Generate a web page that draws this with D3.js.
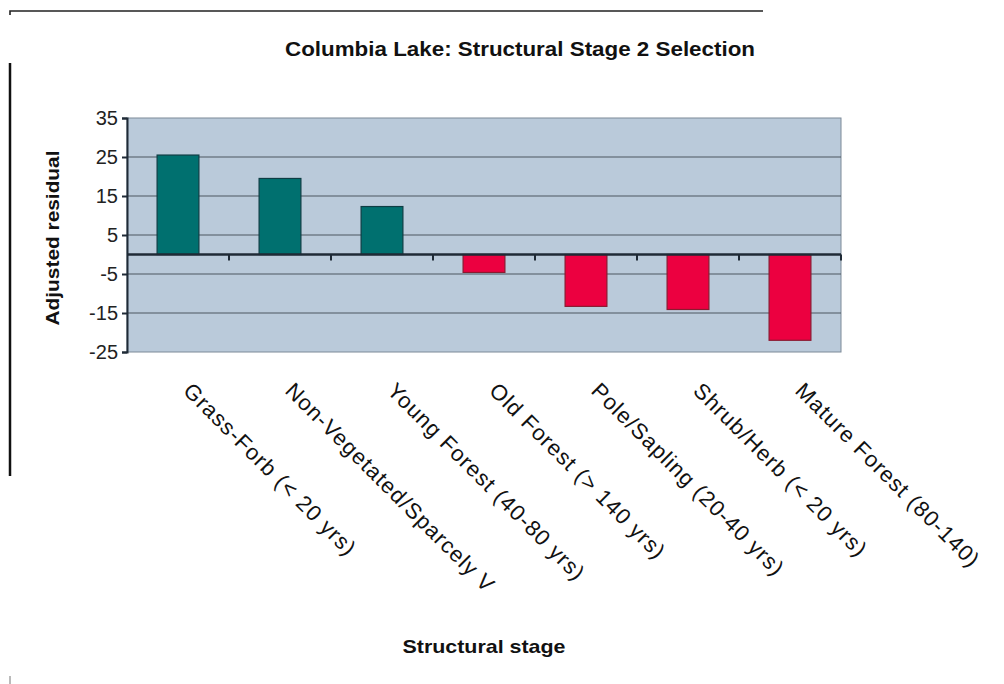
<!DOCTYPE html>
<html>
<head>
<meta charset="utf-8">
<script src="https://cdn.jsdelivr.net/npm/d3@7"></script>
<style>
  html, body { margin: 0; padding: 0; background: #fff; }
  svg { display: block; }
</style>
</head>
<body>
<svg id="chart" width="1004" height="684"></svg>
<script>
// Structural stages and their adjusted residuals
const categories = [
  "Grass-Forb (< 20 yrs)",
  "Non-Vegetated/Sparcely V",
  "Young Forest (40-80 yrs)",
  "Old Forest (> 140 yrs)",
  "Pole/Sapling (20-40 yrs)",
  "Shrub/Herb (< 20 yrs)",
  "Mature Forest (80-140)"
];
const residuals = [25.5, 19.5, 12.3, -4.6, -13.3, -14.1, -22.0];
const yTicks = [35, 25, 15, 5, -5, -15, -25];

const svg = d3.select("#chart");
const plot = { left: 127, right: 841, top: 118, bottom: 352 };

const x = d3.scaleBand()
  .domain(categories)
  .range([plot.left, plot.right])
  .paddingInner(0.59)
  .paddingOuter(0.295);

const y = d3.scaleLinear().domain([-25, 35]).range([plot.bottom, plot.top]);

// page frame strokes
svg.append("path")
  .attr("d", "M10,15 L10,11 L763,11")
  .attr("fill", "none").attr("stroke", "#222").attr("stroke-width", 1.6);
svg.append("line")
  .attr("x1", 10).attr("x2", 10).attr("y1", 63).attr("y2", 476)
  .attr("stroke", "#111").attr("stroke-width", 2.5);
svg.append("line")
  .attr("x1", 10).attr("x2", 10).attr("y1", 676).attr("y2", 684)
  .attr("stroke", "#777").attr("stroke-width", 1);

// plot background
svg.append("rect")
  .attr("x", plot.left).attr("y", plot.top)
  .attr("width", plot.right - plot.left).attr("height", plot.bottom - plot.top)
  .attr("fill", "#bacada").attr("stroke", "#7d8a98").attr("stroke-width", 1);

// horizontal gridlines
svg.append("g")
  .selectAll("line")
  .data(yTicks.filter(d => d !== 35 && d !== -25))
  .join("line")
  .attr("x1", plot.left).attr("x2", plot.right)
  .attr("y1", d => y(d)).attr("y2", d => y(d))
  .attr("stroke", "#4d5660").attr("stroke-width", 1.1);

// bars
svg.append("g")
  .selectAll("rect")
  .data(categories.map((c, i) => ({ c, v: residuals[i] })))
  .join("rect")
  .attr("x", d => x(d.c))
  .attr("width", x.bandwidth())
  .attr("y", d => y(Math.max(0, d.v)))
  .attr("height", d => Math.abs(y(d.v) - y(0)))
  .attr("fill", d => d.v >= 0 ? "#00706f" : "#ec0040")
  .attr("stroke", d => d.v >= 0 ? "#0e3d44" : "#8a1a30")
  .attr("stroke-width", 1.2);

// y axis
const yAxis = svg.append("g")
  .attr("transform", `translate(${plot.left},0)`)
  .call(d3.axisLeft(y).tickValues(yTicks).tickSize(5).tickPadding(4).tickFormat(d => String(d)));
yAxis.select(".domain").attr("stroke", "#1f2a36").attr("stroke-width", 2);
yAxis.selectAll(".tick line").attr("stroke", "#1f2a36").attr("stroke-width", 2);
yAxis.selectAll("text")
  .attr("font-family", "Liberation Sans, Arial, sans-serif")
  .attr("font-size", 20).attr("fill", "#222");

// zero line with category boundary ticks
const step = x.step();
svg.append("line")
  .attr("x1", plot.left).attr("x2", plot.right)
  .attr("y1", y(0)).attr("y2", y(0))
  .attr("stroke", "#1f2a36").attr("stroke-width", 2.4);
svg.append("g")
  .selectAll("line")
  .data(d3.range(1, categories.length + 1))
  .join("line")
  .attr("x1", i => plot.left + i * step).attr("x2", i => plot.left + i * step)
  .attr("y1", y(0)).attr("y2", y(0) + 6)
  .attr("stroke", "#1f2a36").attr("stroke-width", 2);

// rotated category labels
svg.append("g")
  .selectAll("text")
  .data(categories)
  .join("text")
  .attr("transform", d => `translate(${x(d) + x.bandwidth() / 2 + 4},392) rotate(45)`)
  .attr("font-family", "Liberation Sans, Arial, sans-serif")
  .attr("font-size", 22).attr("letter-spacing", 1.1).attr("fill", "#111")
  .text(d => d);

// titles
svg.append("text")
  .attr("x", 520).attr("y", 56)
  .attr("text-anchor", "middle")
  .attr("font-family", "Liberation Sans, Arial, sans-serif")
  .attr("font-weight", "bold").attr("font-size", 21).attr("fill", "#111")
  .attr("textLength", 470).attr("lengthAdjust", "spacingAndGlyphs")
  .text("Columbia Lake: Structural Stage 2 Selection");

svg.append("text")
  .attr("transform", `translate(59,238) rotate(-90)`)
  .attr("text-anchor", "middle")
  .attr("font-family", "Liberation Sans, Arial, sans-serif")
  .attr("font-weight", "bold").attr("font-size", 19).attr("fill", "#111")
  .attr("textLength", 175).attr("lengthAdjust", "spacingAndGlyphs")
  .text("Adjusted residual");

svg.append("text")
  .attr("x", 484).attr("y", 653)
  .attr("text-anchor", "middle")
  .attr("font-family", "Liberation Sans, Arial, sans-serif")
  .attr("font-weight", "bold").attr("font-size", 19).attr("fill", "#111")
  .attr("textLength", 163).attr("lengthAdjust", "spacingAndGlyphs")
  .text("Structural stage");
</script>
</body>
</html>
